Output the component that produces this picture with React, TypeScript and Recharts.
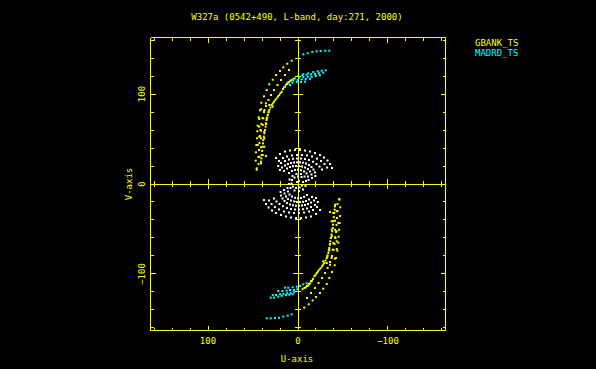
import React from "react";
import { ScatterChart, Scatter, XAxis, YAxis, ReferenceLine } from "recharts";

// plot geometry (px)
const W = 596;
const H = 369;
const LEFT = 150.5;
const TOP = 37.5;
const PW = 295;
const PH = 293;
const CX = LEFT + PW / 2;
const CY = TOP + PH / 2;
const U_LIM = 163.9;
const V_LIM = 162.8;

const YELLOW = "#ffff00";
const CYAN = "#00ffff";
const WHITE = "#ffffff";
const FONT = "'DejaVu Sans Mono', monospace";

const TITLE = "W327a (0542+490, L-band, day:271, 2000)";
const SERIES_NAMES = ["GBANK_TS", "MADRD_TS"];
const TICKS = [-160, -140, -120, -100, -80, -60, -40, -20, 0, 20, 40, 60, 80, 100, 120, 140, 160];
const MAJOR_TICKS = [-100, 0, 100];
const MAJOR_LABELS = ["\u2212100", "0", "100"];

// GBANK_TS tracks (u, v)
const gbankOuterN = [[7, 137], [11.9, 133.7], [16.3, 129.7], [20, 125.6], [24.4, 121.1], [28.1, 115.9], [31.9, 110.8], [34.8, 104.4], [37.8, 97.4], [40.8, 90.3], [42.2, 81.9], [43.7, 74.1], [44.8, 64.8], [45.2, 58.6], [45.6, 50.8], [46.3, 43.3], [46.7, 35.2], [47, 25.9], [45.9, 15.9]];
const gbankMidN = [[10, 126.7], [14.4, 121.1], [18.9, 115.6], [22.8, 110], [26.7, 104.4], [30, 98.9], [32.8, 93.3], [35.6, 86.7], [37.8, 80], [39.4, 73.3], [40.6, 66.7], [41.7, 60], [42.2, 53.3], [42.8, 45.6], [43.3, 37.8], [43.9, 30], [43.9, 22.2]];
const gbankInnerN = [[7, 115.6], [10, 113.3], [12.2, 111.1], [14.4, 108.1], [16.7, 105.6], [18.1, 102.6], [20.8, 98.9], [23.7, 95.2], [26.7, 91.4], [29.2, 87.8], [31.9, 82.2], [33.7, 76.7], [34.8, 71.1], [35.9, 63.7], [37.4, 56.3], [38.6, 48.9], [39.2, 41.4], [40.3, 32.2], [41.1, 24.8]];
const gbankInner2N = [[5, 117], [8.5, 114.8], [11.5, 112.8], [13.5, 110.4], [15.5, 107.5], [19.5, 101], [22.3, 97.2], [25.2, 93.5], [28, 89.6], [30.6, 85], [32.8, 79.5], [34.2, 74], [35.4, 67.4], [36.6, 60], [38, 52.6], [38.9, 45.2], [39.8, 36.8], [40.7, 28.5]];
const gbankScatterN = [[45.9, 17.4], [41.1, 23], [35.6, 31.1], [39.2, 32.2], [43, 30.3], [37.4, 41.4], [41.1, 40.8], [44.8, 43.3], [37.4, 50.8], [41.1, 50.8], [43, 52.6], [37.4, 58.1], [41.1, 59.2], [35.6, 66.7], [39.2, 65.6], [43, 63.7], [34.8, 73], [38.6, 73], [43, 72.2], [32.6, 80.3], [37.4, 82.2], [41.1, 83], [28.1, 85.9], [31.9, 87.8], [35.6, 89.7]];
const gbankOuterS = [[-7, -137.4], [-11.9, -133.7], [-16.3, -129.4], [-20, -125.6], [-24.4, -121.1], [-28.1, -116.3], [-31.9, -111.1], [-34.8, -104.4], [-37.8, -97.8], [-40.8, -90.3], [-42.2, -82.2], [-43.7, -74.1], [-44.8, -65.2], [-45.2, -58.6], [-45.6, -50.8], [-46.3, -43.3], [-46.7, -35.6], [-47, -25.9], [-45.9, -16.7]];
const gbankMidS = [[-10, -126.7], [-14.4, -121.1], [-18.9, -115.6], [-22.8, -110], [-26.7, -104.4], [-30, -98.9], [-32.8, -93.3], [-35.6, -86.7], [-37.8, -80], [-39.4, -73.3], [-40.6, -66.7], [-41.7, -60], [-42.2, -53.3], [-42.8, -45.6], [-43.3, -37.8], [-43.9, -30], [-43.9, -22.2]];
const gbankInnerS = [[-7, -115.6], [-10, -113.3], [-12.2, -111.1], [-14.4, -108.1], [-16.7, -105.6], [-18.1, -102.6], [-20.8, -98.9], [-23.7, -95.2], [-26.7, -91.4], [-29.2, -87.8], [-31.9, -82.2], [-33.7, -76.7], [-34.8, -71.1], [-35.9, -63.7], [-37.4, -56.3], [-38.6, -48.9], [-39.2, -41.4], [-40.3, -32.2], [-41.1, -24.8]];
const gbankInner2S = [[-5, -117], [-8.5, -114.8], [-11.5, -112.8], [-13.5, -110.4], [-15.5, -107.5], [-19.5, -101], [-22.3, -97.2], [-25.2, -93.5], [-28, -89.6], [-30.6, -85], [-32.8, -79.5], [-34.2, -74], [-35.4, -67.4], [-36.6, -60], [-38, -52.6], [-38.9, -45.2], [-39.8, -36.8], [-40.7, -28.5]];
const gbankScatterS = [[-45.9, -17.4], [-41.1, -23], [-35.6, -31.1], [-39.2, -32.2], [-43, -30.3], [-37.4, -41.4], [-41.1, -40.8], [-44.8, -43.3], [-37.4, -50.8], [-41.1, -50.8], [-43, -52.6], [-37.4, -58.1], [-41.1, -59.2], [-35.6, -66.7], [-39.2, -65.6], [-43, -63.7], [-34.8, -73], [-38.6, -73], [-43, -72.2], [-32.6, -80.3], [-37.4, -82.2], [-41.1, -83], [-28.1, -85.9], [-31.9, -87.8], [-35.6, -89.7]];

// MADRD_TS tracks (u, v)
const madrdOuterN = [[-5.9, 144.1], [-10.8, 145.2], [-15.9, 146.7], [-20.8, 147.4], [-25.2, 147.8], [-30.3, 148.1], [-34.8, 148.1]];
const madrdBandN = [
  [-5.9, 121.9], [-11.4, 123], [-17, 124.4], [-21.9, 125.2], [-26.3, 125.9], [-30.8, 126.3],
  [-0.3, 120], [-4.8, 120.8], [-9.7, 121.4], [-14.4, 121.9], [-18.9, 122.2], [-23.3, 123], [-28.1, 123.7],
  [3.3, 117.4], [-1.1, 118.1], [-5.9, 118.9], [-10.8, 119.2], [-15.2, 119.2], [-19.7, 120], [-24.4, 120.8],
  [5.2, 114.8], [0.3, 115.6], [-4.1, 116.3], [-8.6, 116.7], [-13.3, 117],
  [10.8, 111.9], [6.3, 112.6], [1.4, 113.3], [-3.3, 113.3], [-7.8, 113.7],
  [14.4, 108.1], [8.9, 110],
];
const madrdOuterS = [[34.8, -149.2], [30.3, -149.2], [25.6, -148.9], [21.1, -148.6], [16.3, -147.4], [11.4, -146.3], [7, -144.8]];
const madrdBandS = [
  [14.4, -115.2], [10.8, -115.2], [5.9, -114.8], [1.4, -114.1], [-2.2, -113.3], [-5.9, -111.4], [-9.7, -110.3],
  [21.9, -118.9], [17.4, -118.9], [12.6, -118.6], [8.9, -117.8], [4.4, -117.8], [0.8, -117],
  [28.1, -123.3], [24.4, -123.3], [20, -122.6], [16.3, -122.2], [11.9, -121.4], [8.1, -121.4], [4.4, -120.3],
  [30.3, -126.3], [26.7, -126.3], [21.9, -125.2], [18.1, -124.4], [13.3, -123.3], [9.7, -123], [5.9, -122.6],
];

// other baselines (white)
const arc1N = [[24.4, 28.9], [20, 33.3], [14.4, 36.1], [8.9, 37.2], [3.3, 37.8], [-2.2, 37.8], [-7.8, 37.2], [-13.3, 36.1], [-18.9, 34.4], [-24.4, 32.2], [-28.9, 29.4], [-32.8, 26.1], [-35.6, 22.2], [-37.8, 17.8]];
const arc1S = [[-24.4, -28.9], [-20, -33.3], [-14.4, -36.1], [-8.9, -37.2], [-3.3, -37.8], [2.2, -37.8], [7.8, -37.2], [13.3, -36.1], [18.9, -34.4], [24.4, -32.2], [28.9, -29.4], [32.8, -26.1], [35.6, -22.2], [37.8, -17.8]];
const arc2N = [[21.1, 25.6], [16.7, 28.9], [12.2, 30.6], [6.7, 31.7], [1.1, 32.2], [-4.4, 32.2], [-10, 31.7], [-15.6, 30.6], [-21.1, 28.3], [-25.6, 25.6], [-29.4, 22.2], [-32.2, 18.3]];
const arc2S = [[-21.1, -25.6], [-16.7, -28.9], [-12.2, -30.6], [-6.7, -31.7], [-1.1, -32.2], [4.4, -32.2], [10, -31.7], [15.6, -30.6], [21.1, -28.3], [25.6, -25.6], [29.4, -22.2], [32.2, -18.3]];
const arc6N = [[22, 20], [18.9, 23.3], [14.4, 25.6], [10, 27.2], [5.6, 28], [1.1, 28.3], [-3.3, 28.3], [-7.8, 27.8], [-12.2, 26.7], [-16.7, 24.7], [-20.6, 22.2], [-23.9, 19.4], [-26.7, 16.1]];
const arc6S = [[-22, -20], [-18.9, -23.3], [-14.4, -25.6], [-10, -27.2], [-5.6, -28], [-1.1, -28.3], [3.3, -28.3], [7.8, -27.8], [12.2, -26.7], [16.7, -24.7], [20.6, -22.2], [23.9, -19.4], [26.7, -16.1]];
const arc3N = [[20, 15.6], [17.8, 18.3], [14.4, 20.6], [11.1, 22.2], [7.8, 23.3], [4.4, 23.9], [1.1, 24.1], [-2.2, 24.1], [-5.6, 23.7], [-8.9, 22.8], [-12.2, 21.1], [-15, 18.9], [-17.2, 16.1], [-18.9, 12.8], [-19.4, 8.9]];
const arc3S = [[-20, -15.6], [-17.8, -18.3], [-14.4, -20.6], [-11.1, -22.2], [-7.8, -23.3], [-4.4, -23.9], [-1.1, -24.1], [2.2, -24.1], [5.6, -23.7], [8.9, -22.8], [12.2, -21.1], [15, -18.9], [17.2, -16.1], [18.9, -12.8], [19.4, -8.9]];
const arc4N = [[15.6, 14.4], [12.2, 17.2], [8.9, 18.9], [5.6, 19.8], [2.2, 20], [-1.1, 20], [-4.4, 19.4], [-7.8, 18.3], [-11.1, 16.7], [-13.3, 13.9], [-15, 10.6], [-15.6, 6.7]];
const arc4S = [[-15.6, -14.4], [-12.2, -17.2], [-8.9, -18.9], [-5.6, -19.8], [-2.2, -20], [1.1, -20], [4.4, -19.4], [7.8, -18.3], [11.1, -16.7], [13.3, -13.9], [15, -10.6], [15.6, -6.7]];
const arc5N = [[10, 12.2], [6.7, 14.4], [3.3, 15.6], [0, 15.8], [-3.3, 15.3], [-6.7, 13.9], [-9.4, 11.7], [-11.1, 8.3], [-11.7, 4.4]];
const arc5S = [[-10, -12.2], [-6.7, -14.4], [-3.3, -15.6], [0, -15.8], [3.3, -15.3], [6.7, -13.9], [9.4, -11.7], [11.1, -8.3], [11.7, -4.4]];
const core = [[-5.6, 2.2], [-4.4, -1.7], [-1.7, -3.9], [2.2, -4.4], [5.6, -2.8], [7.2, 0.6], [6.7, 4.4], [3.9, 7.2], [0, 8.3], [-3.9, 7.8], [1.1, 2.2], [-1.1, 3.3]];
const coreOuter = [[-8.9, 3.3], [-8.3, -2.2], [-5.6, -6.1], [-1.1, -7.8], [3.9, -7.2], [8.3, -4.4], [10, 0], [9.4, 5], [6.1, 8.9], [1.7, 11.1], [-3.3, 11.1], [-7.2, 8.3]];

const toPoints = (tracks: number[][][]) => tracks.flat().map(([u, v]) => ({ u, v }));

const whiteData = toPoints([arc1N, arc1S, arc2N, arc2S, arc6N, arc6S, arc3N, arc3S, arc4N, arc4S, arc5N, arc5S, core, coreOuter]);
const gbankData = toPoints([gbankOuterN, gbankMidN, gbankInnerN, gbankInner2N, gbankScatterN, gbankOuterS, gbankMidS, gbankInnerS, gbankInner2S, gbankScatterS]);
const madrdData = toPoints([madrdOuterN, madrdBandN, madrdOuterS, madrdBandS]);

const dot = (color: string) => (p: any) =>
  p.cx == null ? <g /> : <rect x={p.cx - 1} y={p.cy - 1} width={2} height={2} fill={color} />;

function UTick({ x, payload }: any) {
  const i = MAJOR_TICKS.indexOf(payload.value);
  const len = i >= 0 ? 5 : 3;
  const bottom = TOP + PH;
  return (
    <g stroke={YELLOW} shapeRendering="crispEdges">
      <line x1={x} y1={bottom} x2={x} y2={bottom - len} />
      <line x1={x} y1={TOP} x2={x} y2={TOP + len} />
      <line x1={x} y1={CY - len} x2={x} y2={CY + len} />
      {i >= 0 && (
        <text x={x} y={bottom + 13} textAnchor="middle" fill={YELLOW} stroke="none" fontFamily={FONT} fontSize={9}>
          {MAJOR_LABELS[i]}
        </text>
      )}
    </g>
  );
}

function VTick({ y, payload }: any) {
  const i = MAJOR_TICKS.indexOf(payload.value);
  const len = i >= 0 ? 5 : 3;
  const right = LEFT + PW;
  return (
    <g stroke={YELLOW} shapeRendering="crispEdges">
      <line x1={LEFT} y1={y} x2={LEFT + len} y2={y} />
      <line x1={right} y1={y} x2={right - len} y2={y} />
      <line x1={CX - len} y1={y} x2={CX + len} y2={y} />
      {i >= 0 && (
        <text x={145} y={y} transform={`rotate(-90 145 ${y})`} textAnchor="middle" fill={YELLOW} stroke="none" fontFamily={FONT} fontSize={9}>
          {MAJOR_LABELS[i]}
        </text>
      )}
    </g>
  );
}

export default function App() {
  return (
    <div style={{ position: "fixed", left: 0, top: 0, width: W, height: H, background: "#000" }}>
      <ScatterChart
        width={W}
        height={H}
        margin={{ top: TOP, right: W - LEFT - PW, bottom: H - TOP - PH - 1, left: LEFT - 1 }}
      >
        <XAxis
          type="number"
          dataKey="u"
          domain={[-U_LIM, U_LIM]}
          allowDataOverflow
          reversed
          ticks={TICKS}
          interval={0}
          height={1}
          tickSize={0}
          tickMargin={0}
          axisLine={false}
          tickLine={false}
          tick={<UTick />}
        />
        <YAxis
          type="number"
          dataKey="v"
          domain={[-V_LIM, V_LIM]}
          allowDataOverflow
          ticks={TICKS}
          interval={0}
          width={1}
          tickSize={0}
          tickMargin={0}
          axisLine={false}
          tickLine={false}
          tick={<VTick />}
        />
        <ReferenceLine x={U_LIM} stroke={YELLOW} ifOverflow="visible" shapeRendering="crispEdges" />
        <ReferenceLine x={-U_LIM} stroke={YELLOW} ifOverflow="visible" shapeRendering="crispEdges" />
        <ReferenceLine y={V_LIM} stroke={YELLOW} ifOverflow="visible" shapeRendering="crispEdges" />
        <ReferenceLine y={-V_LIM} stroke={YELLOW} ifOverflow="visible" shapeRendering="crispEdges" />
        <ReferenceLine x={0} stroke={YELLOW} shapeRendering="crispEdges" />
        <ReferenceLine y={0} stroke={YELLOW} shapeRendering="crispEdges" />
        <Scatter data={whiteData} fill={WHITE} shape={dot(WHITE)} isAnimationActive={false} />
        <Scatter name={SERIES_NAMES[0]} data={gbankData} fill={YELLOW} shape={dot(YELLOW)} isAnimationActive={false} />
        <Scatter name={SERIES_NAMES[1]} data={madrdData} fill={CYAN} shape={dot(CYAN)} isAnimationActive={false} />
      </ScatterChart>
      <svg width={W} height={H} style={{ position: "absolute", left: 0, top: 0, pointerEvents: "none" }}>
        <g fontFamily={FONT} fontSize={9} fill={YELLOW}>
          <text x={297} y={19.5} textAnchor="middle">{TITLE}</text>
          <text x={297} y={362} textAnchor="middle">U-axis</text>
          <text x={131.5} y={184} textAnchor="middle" transform="rotate(-90 131.5 184)">V-axis</text>
          <text x={475} y={45.5}>{SERIES_NAMES[0]}</text>
          <text x={475} y={56} fill={CYAN}>{SERIES_NAMES[1]}</text>
        </g>
      </svg>
    </div>
  );
}
